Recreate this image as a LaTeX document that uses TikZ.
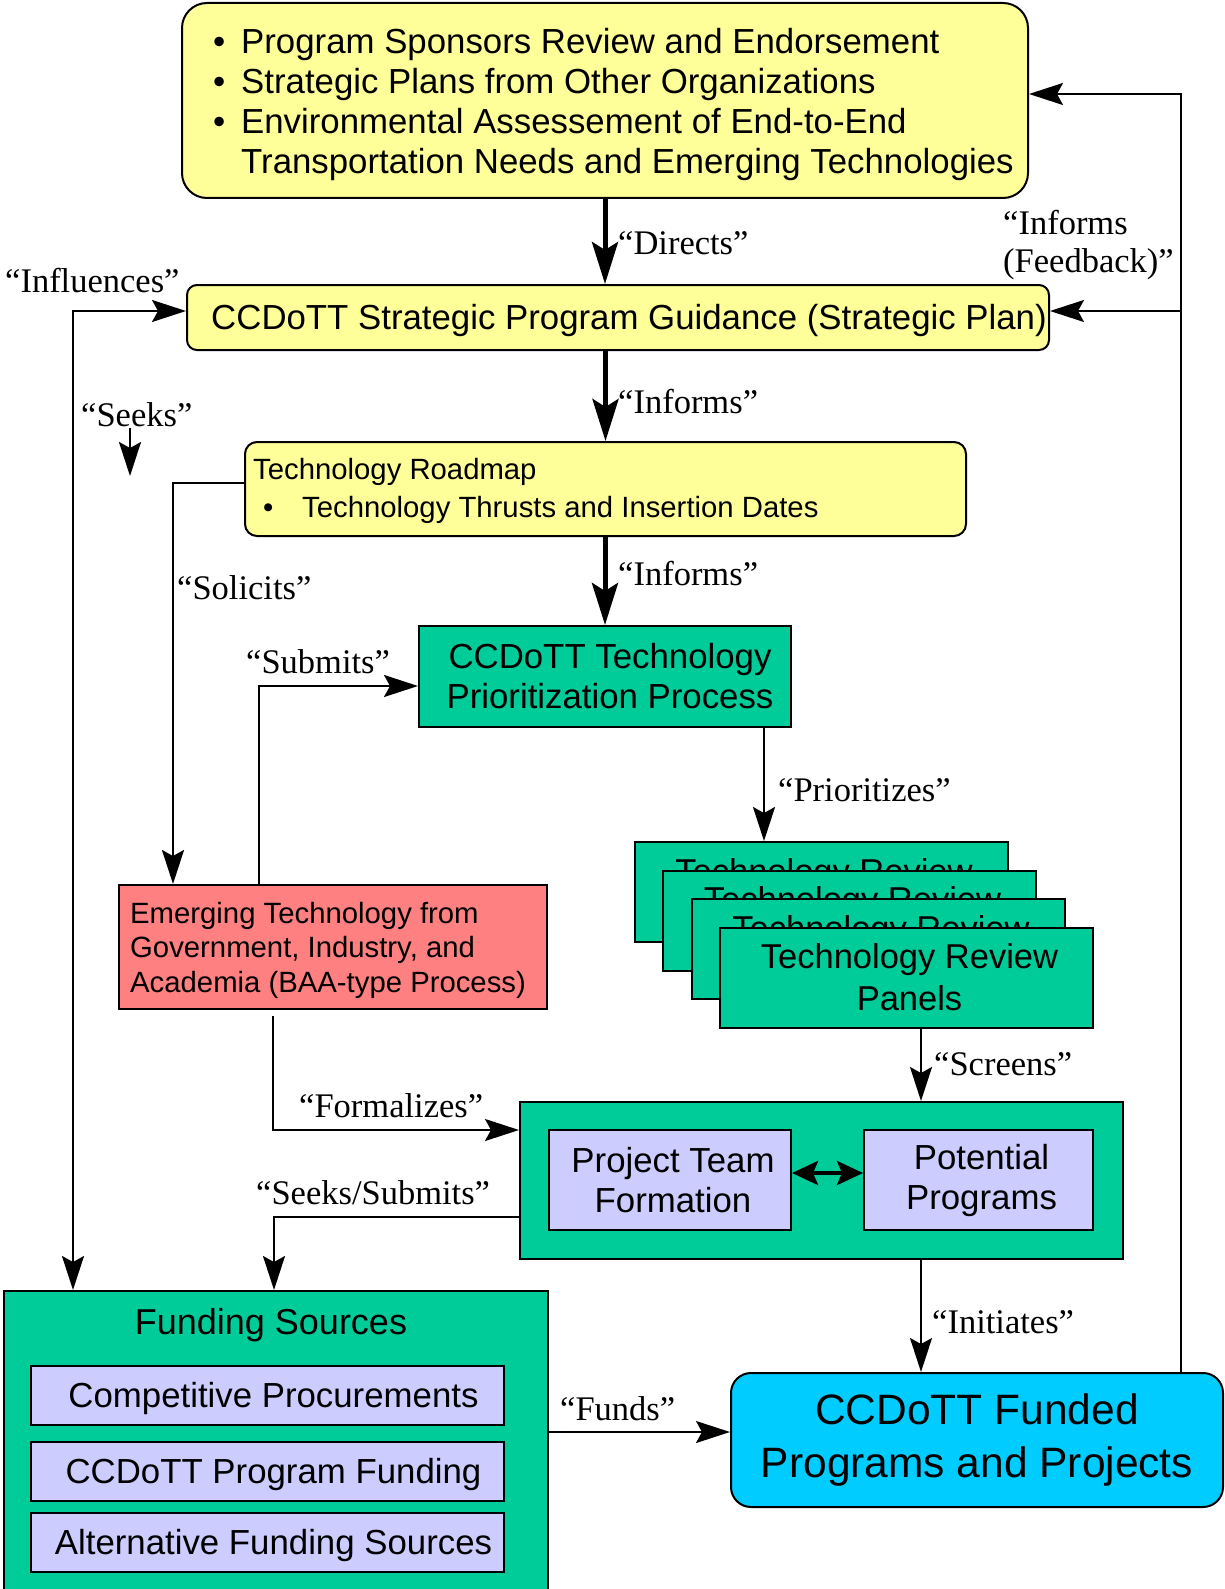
\documentclass[tikz,border=0pt]{standalone}
\usepackage{fontspec}
\setmainfont{Liberation Serif}
\newfontfamily\arial{Liberation Sans}
\usetikzlibrary{arrows.meta,calc}
\definecolor{ylw}{HTML}{FFFF99}
\definecolor{tealg}{HTML}{00CC99}
\definecolor{lav}{HTML}{CCCCFF}
\definecolor{salm}{HTML}{FF8080}
\definecolor{cyanb}{HTML}{00CCFF}
\tikzset{
  mytip/.tip={Stealth[length=34pt,width=22pt,inset=6pt]},
  bigtip/.tip={Stealth[length=42pt,width=26pt,inset=8pt]},
  dbltip/.tip={Stealth[length=26pt,width=24pt,inset=5pt]},
}
\begin{document}
\begin{tikzpicture}[x=1pt,y=-1pt,
  box/.style={draw, line width=2pt, inner sep=0pt},
  bigtxt/.style={font=\arial\fontsize{34.8}{40}\selectfont},
  midtxt/.style={font=\arial\fontsize{29.3}{38}\selectfont},
  one/.style={text height=30pt, text depth=5.3pt},
  lbl/.style={font=\fontsize{34.5}{38}\selectfont, inner sep=0pt, anchor=west, align=left},
  conn/.style={line width=2pt, -{mytip}},
  bigconn/.style={line width=5pt, -{bigtip}},
  panel/.style={box, fill=tealg, minimum width=373pt, minimum height=100pt, align=center,
                font=\arial\fontsize{34.5}{42}\selectfont},
]
\useasboundingbox (0,0) rectangle (1225,1589);

% top box
\node[box, fill=ylw, rounded corners=25pt, minimum width=846pt, minimum height=195pt] (top) at (605,100.5) {};
\node[bigtxt, anchor=west, align=left, inner sep=0pt] (toptext) at (213,105)
  {\makebox[28pt][l]{\textbullet}Program Sponsors Review and Endorsement\\
   \makebox[28pt][l]{\textbullet}Strategic Plans from Other Organizations\\
   \makebox[28pt][l]{\textbullet}Environmental Assessement of End-to-End\\
   \hspace*{28pt}Transportation Needs and Emerging Technologies};

% guidance
\node[box, fill=ylw, rounded corners=10pt, minimum width=862pt, minimum height=65pt, bigtxt, one] (guide) at (618,317.5)
  {\hspace*{22pt}CCDoTT Strategic Program Guidance (Strategic Plan)};

% roadmap
\node[box, fill=ylw, rounded corners=12pt, minimum width=721pt, minimum height=94pt] (road) at (605.5,489) {};
\node[midtxt, anchor=west, align=left, inner sep=0pt] (roadtext) at (253,491)
  {Technology Roadmap\\\hspace*{10pt}\makebox[39pt][l]{\textbullet}Technology Thrusts and Insertion Dates};

% prioritization
\node[box, fill=tealg, minimum width=372pt, minimum height=101pt, bigtxt, align=center] (prio) at (605,676.5)
  {\hspace*{10pt}CCDoTT Technology\\\hspace*{10pt}Prioritization Process};

% panels
\node[panel] (p1) at (821,892) {\hspace*{6pt}Technology Review\\\hspace*{6pt}Panels};
\node[panel] (p2) at (849.5,920.5) {\hspace*{6pt}Technology Review\\\hspace*{6pt}Panels};
\node[panel] (p3) at (878,949) {\hspace*{6pt}Technology Review\\\hspace*{6pt}Panels};
\node[panel] (p4) at (906.5,977.5) {\hspace*{6pt}Technology Review\\\hspace*{6pt}Panels};

% red box
\node[box, fill=salm, minimum width=428pt, minimum height=124pt] (red) at (333,947) {};
\node[font=\arial\fontsize{29.3}{34.5}\selectfont, anchor=west, align=left, inner sep=0pt] (redtext) at (130,950)
  {Emerging Technology from\\Government, Industry, and\\Academia (BAA-type Process)};

% project team outer
\node[box, fill=tealg, minimum width=603pt, minimum height=157pt] (outer) at (821.5,1180.5) {};
\node[box, fill=lav, minimum width=242pt, minimum height=100pt, bigtxt, align=center] (ptf) at (670,1180)
  {\hspace*{6pt}Project Team\\\hspace*{6pt}Formation};
\node[box, fill=lav, minimum width=229pt, minimum height=100pt, bigtxt, align=center] (pp) at (978.5,1180)
  {\hspace*{6pt}Potential\\\hspace*{6pt}Programs};

% funding sources
\node[box, fill=tealg, minimum width=544pt, minimum height=340pt, anchor=north west] (fund) at (3,1290) {};
\node[font=\arial\fontsize{36}{40}\selectfont, inner sep=0pt] (fundtitle) at (271,1325) {Funding Sources};
\node[box, fill=lav, minimum width=473pt, minimum height=59pt, bigtxt, one] (fs1) at (267.5,1395.5) {\hspace*{12pt}Competitive Procurements};
\node[box, fill=lav, minimum width=473pt, minimum height=59pt, bigtxt, one] (fs2) at (267.5,1471) {\hspace*{12pt}CCDoTT Program Funding};
\node[box, fill=lav, minimum width=473pt, minimum height=59pt, bigtxt, one] (fs3) at (267.5,1542.5) {\hspace*{12pt}Alternative Funding Sources};

% funded
\node[box, fill=cyanb, rounded corners=20pt, minimum width=492pt, minimum height=134pt, align=center,
      font=\arial\fontsize{42.5}{53}\selectfont] (funded) at (977,1440)
  {CCDoTT Funded\\Programs and Projects};

% connectors
\draw[bigconn] (top.south) -- (top.south |- guide.north);
\draw[bigconn] (guide.south -| road.north) -- (road.north);
\draw[bigconn] (road.south -| prio.north) -- (prio.north);

\coordinate (prS) at ([xshift=-28pt]prio.south east);
\draw[conn] (prS) -- (prS |- p1.north);

\coordinate (scS) at ([xshift=14.5pt]p4.south);
\draw[conn] (scS) -- (scS |- outer.north);

\draw[line width=4pt, {dbltip}-{dbltip}] ([yshift=7pt]ptf.east) -- ([yshift=7pt]pp.west);

\coordinate (solS) at ([yshift=6pt]road.west);
\coordinate (solE) at ([xshift=55pt]red.north west);
\draw[conn] (solS) -| (solE);

\coordinate (subS) at ([xshift=141pt]red.north west);
\coordinate (subE) at ([yshift=-9.5pt]prio.west);
\draw[conn] (subS) |- (subE);

\coordinate (forS) at ([xshift=155pt]red.south west);
\coordinate (forE) at ([yshift=50.5pt]outer.west);
\draw[conn, shorten <=6pt] (forS) |- (forE);

\coordinate (ssS) at ([yshift=-36.5pt]outer.west);
\coordinate (ssE) at ([xshift=271pt]fund.north west);
\draw[conn] (ssS) -| (ssE);

\coordinate (infS) at ([xshift=70pt]fund.north west);
\coordinate (infE) at ([yshift=6.5pt]guide.west);
\draw[line width=2pt, {mytip}-{mytip}] (infS) |- (infE);

\coordinate (skA) at (130,428);
\coordinate (skB) at (130,476);
\draw[conn] (skA) -- (skB);

\coordinate (inS) at ([xshift=99.5pt]outer.south);
\draw[conn] (inS) -- (inS |- funded.north);

\coordinate (fuE) at ([yshift=8pt]funded.west);
\draw[conn] (fund.east |- fuE) -- (fuE);

\coordinate (fbS) at ([xshift=-43pt]funded.north east);
\coordinate (fbT) at ([yshift=6.5pt]top.east);
\coordinate (fbG) at ([yshift=6.5pt]guide.east);
\draw[conn] (fbS) |- (fbT);
\draw[conn] (fbS |- fbG) -- (fbG);

% labels
\node[lbl] (lDirects) at (618,243) {“Directs”};
\node[lbl] (lInforms1) at (618,402) {“Informs”};
\node[lbl] (lInforms2) at (618,574) {“Informs”};
\node[lbl] (lPrior) at (778,790) {“Prioritizes”};
\node[lbl] (lScreens) at (934,1064) {“Screens”};
\node[lbl] (lFormal) at (299,1106) {“Formalizes”};
\node[lbl] (lSeekSub) at (256,1193) {“Seeks/Submits”};
\node[lbl] (lInit) at (932,1322) {“Initiates”};
\node[lbl] (lFunds) at (560,1409) {“Funds”};
\node[lbl] (lInfl) at (5,281) {“Influences”};
\node[lbl] (lSeeks) at (81,415) {“Seeks”};
\node[lbl] (lSolicits) at (177,588) {“Solicits”};
\node[lbl] (lSubmits) at (246,662) {“Submits”};
\node[lbl] (lFeedback) at (1003,245) {“Informs\\(Feedback)”};
\end{tikzpicture}
\end{document}
